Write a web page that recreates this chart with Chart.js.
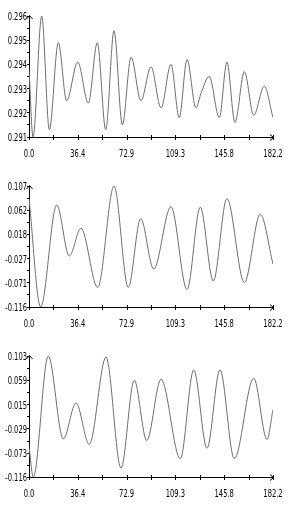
<!DOCTYPE html>
<html>
<head>
<meta charset="utf-8">
<script src="https://cdn.jsdelivr.net/npm/chart.js@4"></script>
<style>
html, body { margin: 0; padding: 0; background: #fff; }
.panel { position: absolute; left: 0; width: 302px; height: 170px; }
</style>
</head>
<body>
<div class="panel" style="top:0px"><canvas id="c1" width="302" height="170"></canvas></div>
<div class="panel" style="top:170px"><canvas id="c2" width="302" height="170"></canvas></div>
<div class="panel" style="top:340px"><canvas id="c3" width="302" height="170"></canvas></div>
<script>
// x tick values (labels shown with one decimal)
const xTicks = [0, 36.44, 72.88, 109.32, 145.76, 182.2];

// panel 1
const yTicks1 = [0.291, 0.292, 0.293, 0.294, 0.295, 0.296];
const t1 = [0, 3.0, 9.5, 15.2, 21.9, 28.1, 36.4, 44.3, 51.0, 57.3, 63.5, 69.7, 76.2, 83.6, 91.1, 98.6, 106.0, 112.2, 118.0, 124.7, 128.4, 134.6, 142.1, 147.8, 153.8, 160.8, 167.8, 175.7, 182.2];
const v1 = [0.2938, 0.2910, 0.2960, 0.2913, 0.2949, 0.2925, 0.2941, 0.2924, 0.2949, 0.2913, 0.2954, 0.2915, 0.2943, 0.2925, 0.2939, 0.2922, 0.2940, 0.2918, 0.2942, 0.2922, 0.2928, 0.2935, 0.2918, 0.2941, 0.2916, 0.2937, 0.2919, 0.2931, 0.2918];

// panel 2
const yTicks2 = [-0.116, -0.071, -0.027, 0.018, 0.062, 0.107];
const t2 = [0, 8.7, 20.7, 30.1, 38.8, 51.3, 63.5, 74.1, 83.4, 93.1, 106.0, 118.0, 127.9, 137.6, 147.8, 160.8, 172.7, 182.2];
const v2 = [0.084, -0.116, 0.072, -0.022, 0.029, -0.080, 0.107, -0.080, 0.047, -0.046, 0.069, -0.084, 0.068, -0.068, 0.084, -0.071, 0.055, -0.037];

// panel 3
const yTicks3 = [-0.116, -0.073, -0.029, 0.015, 0.059, 0.103];
const t3 = [0, 3.2, 14.4, 25.6, 35.1, 45.0, 57.5, 68.7, 78.6, 87.9, 98.6, 113.0, 123.0, 132.9, 142.6, 153.3, 167.8, 177.7, 182.2];
const v3 = [-0.061, -0.116, 0.103, -0.047, 0.018, -0.057, 0.101, -0.100, 0.059, -0.050, 0.061, -0.083, 0.078, -0.064, 0.078, -0.083, 0.063, -0.048, 0.006];

const labelFont = "11px 'DejaVu Sans Condensed', 'DejaVu Sans', sans-serif";
const digitWidth = 4.3; // target advance of one digit, the source uses a narrow bitmap font

// major ticks plus a minor tick halfway between each pair
function withMinors(major) {
    const out = [];
    major.forEach((v, i) => {
        out.push({ value: v });
        if (i < major.length - 1) out.push({ value: (v + major[i + 1]) / 2 });
    });
    return out;
}

function narrowText(ctx, text, x, y, align) {
    ctx.font = labelFont;
    const sx = digitWidth / ctx.measureText('0').width;
    const w = ctx.measureText(text).width * sx;
    let left = x;
    if (align === 'center') left = x - w / 2;
    if (align === 'right') left = x - w;
    ctx.save();
    ctx.translate(left, y);
    ctx.scale(sx, 1);
    ctx.textAlign = 'left';
    ctx.textBaseline = 'alphabetic';
    ctx.fillText(text, 0, 0);
    ctx.restore();
}

const axisPlugin = {
    id: 'axisDecor',
    afterDraw(chart) {
        const ctx = chart.ctx;
        const a = chart.chartArea;
        const xs = chart.scales.x;
        const ys = chart.scales.y;
        const yTicks = chart.options.plugins.axisDecor.yTicks;
        ctx.save();
        ctx.strokeStyle = '#000';
        ctx.fillStyle = '#000';
        ctx.lineWidth = 1;
        ctx.beginPath();
        // ticks crossing the x axis
        xs.ticks.forEach(t => {
            const px = Math.round(xs.getPixelForValue(t.value)) + 0.5;
            ctx.moveTo(px, a.bottom - 2);
            ctx.lineTo(px, a.bottom + 3);
        });
        // arrow heads
        ctx.moveTo(a.right - 3, a.bottom - 2.5);
        ctx.lineTo(a.right + 0.5, a.bottom + 0.5);
        ctx.lineTo(a.right - 3, a.bottom + 3.5);
        ctx.moveTo(a.left - 2.5, a.top + 3);
        ctx.lineTo(a.left + 0.5, a.top - 0.5);
        ctx.lineTo(a.left + 3.5, a.top + 3);
        ctx.stroke();

        xTicks.forEach(v => {
            narrowText(ctx, v.toFixed(1), xs.getPixelForValue(v), a.bottom + 20, 'center');
        });
        yTicks.forEach(v => {
            narrowText(ctx, v.toFixed(3), a.left - 2, ys.getPixelForValue(v) + 4, 'right');
        });
        ctx.restore();
    }
};

function buatPanel(id, xs, ys, yTicks) {
    const ctx = document.getElementById(id).getContext('2d');
    const points = xs.map((x, i) => ({ x: x, y: ys[i] }));

    return new Chart(ctx, {
        type: 'line',
        data: {
            datasets: [{
                data: points,
                borderColor: '#6e6e6e',
                borderWidth: 1,
                pointRadius: 0,
                fill: false,
                cubicInterpolationMode: 'monotone'
            }]
        },
        options: {
            responsive: false,
            animation: false,
            events: [],
            layout: { padding: { top: 16, right: 29, left: 0, bottom: 0 } },
            plugins: {
                legend: { display: false },
                tooltip: { enabled: false },
                axisDecor: { yTicks: yTicks }
            },
            scales: {
                x: {
                    type: 'linear',
                    min: 0,
                    max: 182.2,
                    afterBuildTicks: s => { s.ticks = withMinors(xTicks); },
                    afterFit: s => { s.height = 33; },
                    border: { display: true, color: '#000', width: 1 },
                    grid: { drawOnChartArea: false, drawTicks: false },
                    ticks: { display: false }
                },
                y: {
                    type: 'linear',
                    min: yTicks[0],
                    max: yTicks[yTicks.length - 1],
                    afterBuildTicks: s => { s.ticks = withMinors(yTicks); },
                    afterFit: s => { s.width = 29; },
                    border: { display: true, color: '#000', width: 1 },
                    grid: { drawOnChartArea: false, tickLength: 2, color: '#000' },
                    ticks: { display: false }
                }
            }
        },
        plugins: [axisPlugin]
    });
}

buatPanel('c1', t1, v1, yTicks1);
buatPanel('c2', t2, v2, yTicks2);
buatPanel('c3', t3, v3, yTicks3);
</script>
</body>
</html>
